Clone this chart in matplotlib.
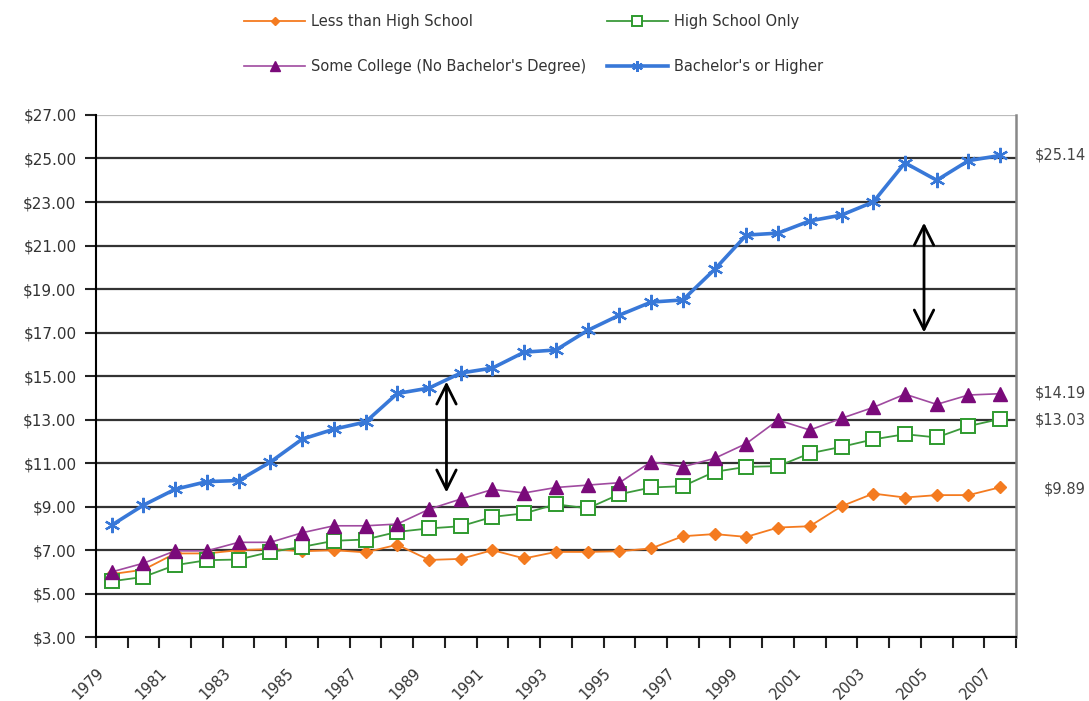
import numpy as np
import matplotlib
matplotlib.use("Agg")
import matplotlib.pyplot as plt
from matplotlib.transforms import blended_transform_factory

# Median hourly wages by education, 1979-2007
years = [str(y) for y in range(1979, 2008)]
less_than_hs = [5.9, 6.1, 6.85, 6.85, 7.0, 7.05, 6.95, 7.0, 6.9, 7.25,
                6.55, 6.6, 7.0, 6.62, 6.92, 6.92, 6.95, 7.08, 7.64, 7.74,
                7.61, 8.04, 8.1, 9.02, 9.6, 9.42, 9.53, 9.53, 9.89]
hs_only = [5.57, 5.77, 6.31, 6.54, 6.57, 6.92, 7.15, 7.43, 7.49, 7.84,
           8.0, 8.1, 8.53, 8.69, 9.11, 8.92, 9.57, 9.88, 9.94, 10.6,
           10.83, 10.86, 11.45, 11.75, 12.09, 12.33, 12.18, 12.7, 13.03]
some_college = [6.0, 6.4, 6.97, 6.97, 7.36, 7.36, 7.8, 8.12, 8.12, 8.2,
                8.88, 9.35, 9.79, 9.63, 9.88, 9.99, 10.1, 11.06, 10.83, 11.22,
                11.9, 12.98, 12.52, 13.06, 13.56, 14.17, 13.7, 14.13, 14.19]
bachelors = [8.15, 9.07, 9.8, 10.15, 10.2, 11.05, 12.1, 12.56, 12.89, 14.2,
             14.45, 15.14, 15.37, 16.1, 16.2, 17.1, 17.8, 18.4, 18.5, 19.9,
             21.48, 21.57, 22.13, 22.4, 23.0, 24.8, 24.0, 24.9, 25.14]
end_labels = ["$9.89", "$13.03", "$14.19", "$25.14"]
y_ticks = list(range(3, 28, 2))

x = np.arange(len(years))

fig = plt.figure(figsize=(10.89, 7.01), dpi=100)
ax = fig.add_axes([0.088, 0.091, 0.845, 0.745])

l1, = ax.plot(x, less_than_hs, color="#F47B20", lw=1.3, marker="D", ms=6.5,
              mfc="#F47B20", mec="#F47B20", zorder=3,
              label="Less than High School")
l2, = ax.plot(x, hs_only, color="#3C9A3C", lw=1.3, marker="s", ms=10,
              mfc="white", mec="#2E9A2E", mew=1.4, zorder=4,
              label="High School Only")
l3, = ax.plot(x, some_college, color="#A04AA0", lw=1.2, marker="^", ms=9.5,
              mfc="#7A0A7A", mec="#7A0A7A", zorder=5,
              label="Some College (No Bachelor's Degree)")
l4, = ax.plot(x, bachelors, color="#3878D8", lw=2.6, marker=(6, 2, 0), ms=11,
              mec="#3878D8", mew=1.6, zorder=6,
              label="Bachelor's or Higher")

ax.set_xlim(-0.5, len(years) - 0.5)
ax.set_ylim(3, 27)
ax.set_yticks(y_ticks)
ax.set_yticklabels(["${:.2f}".format(v) for v in y_ticks])

bounds = np.arange(len(years) + 1) - 0.5
ax.set_xticks(bounds)
ax.set_xticklabels([years[i] if i % 2 == 0 and i < len(years) else ""
                    for i in range(len(bounds))],
                   rotation=45, ha="right", rotation_mode="anchor")

ax.tick_params(axis="both", direction="out", length=8, width=1.5,
               colors="#222222", labelcolor="#333333", labelsize=10.5)
ax.tick_params(axis="y", labelsize=11, pad=6)
ax.tick_params(axis="x", pad=12)

ax.grid(axis="y", color="#333333", lw=1.6, zorder=1)
ax.get_ygridlines()[-1].set_color("#bbbbbb")
ax.spines["top"].set_visible(False)
ax.spines["right"].set_color("#888888")
ax.spines["right"].set_linewidth(1.8)
ax.spines["left"].set_linewidth(1.5)
ax.spines["bottom"].set_linewidth(1.5)

# end-of-series value labels
trans = blended_transform_factory(ax.transAxes, ax.transData)
last_vals = [less_than_hs[-1], hs_only[-1], some_college[-1], bachelors[-1]]
for val, txt, dx, dy in zip(last_vals, end_labels,
                            [0.03, 0.02, 0.02, 0.02], [-0.1, -0.05, 0.05, 0.0]):
    ax.text(1 + dx, val + dy, txt, transform=trans, va="center", ha="left",
            fontsize=10.5, color="#444444", clip_on=False)

# double-headed gap arrows
for xa, top, bot in [(10.55, 14.75, 9.65), (25.6, 22.05, 17.0)]:
    ax.annotate("", xy=(xa, top), xytext=(xa, bot),
                arrowprops=dict(arrowstyle="<->,head_length=0.7,head_width=0.35",
                                lw=2, color="black", shrinkA=0, shrinkB=0,
                                mutation_scale=20),
                zorder=7)

fig.legend(handles=[l1, l3, l2, l4], ncol=2, frameon=False,
           loc="center left", bbox_to_anchor=(0.212, 0.937),
           fontsize=10.5, handlelength=4.2, handletextpad=0.4, markerscale=0.7,
           labelspacing=2.1, columnspacing=1.4, labelcolor="#333333")

fig.savefig("out.png", dpi=100)
